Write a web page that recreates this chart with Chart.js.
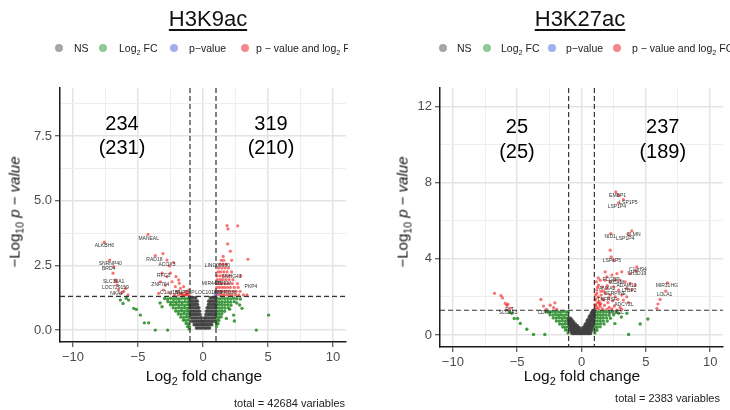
<!DOCTYPE html>
<html lang="en">
<head>
    <meta charset="UTF-8">
    <title>H3K9ac / H3K27ac volcano plots</title>
    <script src="https://cdn.jsdelivr.net/npm/chart.js"></script>
    <style>
        body {
            margin: 0;
            background: #fff;
            font-family: "Liberation Sans", Arial, sans-serif;
        }

        #wrap {
            position: relative;
            width: 730px;
            height: 410px;
            overflow: hidden;
        }

        canvas {
            position: absolute;
            top: 0;
        }

        .title {
            position: absolute;
            top: 7px;
            font-size: 22px;
            line-height: 24px;
            color: #111;
            text-decoration: underline;
            text-decoration-thickness: 2px;
            text-underline-offset: 3px;
            transform: translateX(-50%);
            white-space: nowrap;
        }

        .legend {
            position: absolute;
            top: 0;
            height: 60px;
            overflow: hidden;
            font-size: 10.5px;
            color: #222;
        }

        .dot {
            position: absolute;
            top: 44px;
            width: 8px;
            height: 8px;
            border-radius: 50%;
            margin-left: -4px;
        }

        .lt {
            position: absolute;
            top: 41px;
            line-height: 14px;
            white-space: nowrap;
        }

        .xt, .yt {
            position: absolute;
            white-space: nowrap;
            color: #111;
            transform: translate(-50%, -50%);
        }

        .xt { font-size: 15.5px; }
        .yt { font-size: 15px; transform: translate(-50%, -50%) rotate(-90deg); }

        .total {
            position: absolute;
            font-size: 11px;
            color: #222;
            white-space: nowrap;
            transform: translate(-100%, -50%);
        }

        sub { font-size: 70%; line-height: 0; }
    </style>
</head>

<body>
    <div id="wrap">
        <canvas id="leftChart" width="365" height="410" style="left:0"></canvas>
        <canvas id="rightChart" width="365" height="410" style="left:365px"></canvas>

        <div class="title" style="left:208px">H3K9ac</div>
        <div class="title" style="left:580px">H3K27ac</div>

        <!-- legends -->
        <div class="legend" style="left:0;width:348px">
            <span class="dot" style="left:59px;background:#a6a6a6"></span><span class="lt" style="left:74px">NS</span>
            <span class="dot" style="left:103px;background:#92c892"></span><span class="lt" style="left:119px">Log<sub>2</sub> FC</span>
            <span class="dot" style="left:174px;background:#9fb0ee"></span><span class="lt" style="left:189px">p&minus;value</span>
            <span class="dot" style="left:245px;background:#f28a8a"></span><span class="lt" style="left:256px">p &minus; value and log<sub>2</sub> FC</span>
        </div>
        <div class="legend" style="left:365px;width:365px">
            <span class="dot" style="left:78px;background:#a6a6a6"></span><span class="lt" style="left:92px">NS</span>
            <span class="dot" style="left:122px;background:#92c892"></span><span class="lt" style="left:136px">Log<sub>2</sub> FC</span>
            <span class="dot" style="left:187px;background:#9fb0ee"></span><span class="lt" style="left:201px">p&minus;value</span>
            <span class="dot" style="left:252px;background:#f28a8a"></span><span class="lt" style="left:267px">p &minus; value and log<sub>2</sub> FC</span>
        </div>

        <div class="yt" style="left:14px;top:212px">&minus;Log<sub>10</sub> <i>p</i> &minus; <i>value</i></div>
        <div class="yt" style="left:402px;top:212px">&minus;Log<sub>10</sub> <i>p</i> &minus; <i>value</i></div>
        <div class="xt" style="left:204px;top:376px">Log<sub>2</sub> fold change</div>
        <div class="xt" style="left:582px;top:376px">Log<sub>2</sub> fold change</div>
        <div class="total" style="left:345px;top:403px">total = 42684 variables</div>
        <div class="total" style="left:720px;top:398px">total = 2383 variables</div>
    </div>

    <script>
        // ---- data: [log2 fold change, -log10 p] ----
        const xMajor = [-10, -5, 0, 5, 10];
        const xMinor = [-7.5, -2.5, 2.5, 7.5];
        const yMajorL = [0, 2.5, 5, 7.5];
        const yMinorL = [1.25, 3.75, 6.25, 8.75];
        const yMajorR = [0, 4, 8, 12];
        const yMinorR = [2, 6, 10];
        const fcCut = 1;
        const pCut = 1.301;

        // H3K9ac
        const nsL = [
            [-0.98, 1.25], [-0.84, 1.25], [-0.7, 1.25], [-0.56, 1.25], [0.56, 1.25], [0.7, 1.25], [0.84, 1.25], [0.98, 1.25],
            [-0.98, 1.12], [-0.84, 1.12], [-0.7, 1.12], [-0.56, 1.12], [-0.44, 1.12], [0.44, 1.12], [0.56, 1.12], [0.7, 1.12], [0.84, 1.12], [0.98, 1.12],
            [-0.98, 0.99], [-0.84, 0.99], [-0.7, 0.99], [-0.56, 0.99], [-0.42, 0.99], [0.42, 0.99], [0.56, 0.99], [0.7, 0.99], [0.84, 0.99], [0.98, 0.99],
            [-0.98, 0.86], [-0.84, 0.86], [-0.7, 0.86], [-0.56, 0.86], [-0.42, 0.86], [-0.32, 0.86], [0.32, 0.86], [0.42, 0.86], [0.56, 0.86], [0.7, 0.86], [0.84, 0.86], [0.98, 0.86],
            [-0.96, 0.73], [-0.82, 0.73], [-0.68, 0.73], [-0.54, 0.73], [-0.4, 0.73], [-0.26, 0.73], [0.26, 0.73], [0.4, 0.73], [0.54, 0.73], [0.68, 0.73], [0.82, 0.73], [0.96, 0.73],
            [-0.94, 0.6], [-0.8, 0.6], [-0.66, 0.6], [-0.52, 0.6], [-0.38, 0.6], [-0.22, 0.6], [0.22, 0.6], [0.38, 0.6], [0.52, 0.6], [0.66, 0.6], [0.8, 0.6], [0.94, 0.6],
            [-0.9, 0.47], [-0.76, 0.47], [-0.62, 0.47], [-0.48, 0.47], [-0.34, 0.47], [-0.2, 0.47], [-0.12, 0.47], [0.12, 0.47], [0.2, 0.47], [0.34, 0.47], [0.48, 0.47], [0.62, 0.47], [0.76, 0.47], [0.9, 0.47],
            [-0.85, 0.34], [-0.7, 0.34], [-0.56, 0.34], [-0.42, 0.34], [-0.28, 0.34], [-0.14, 0.34], [-0.04, 0.34], [0.04, 0.34], [0.14, 0.34], [0.28, 0.34], [0.42, 0.34], [0.56, 0.34], [0.7, 0.34], [0.85, 0.34],
            [-0.68, 0.21], [-0.54, 0.21], [-0.4, 0.21], [-0.26, 0.21], [-0.12, 0.21], [0, 0.21], [0.12, 0.21], [0.26, 0.21], [0.4, 0.21], [0.54, 0.21], [0.68, 0.21],
            [-0.5, 0.08], [-0.36, 0.08], [-0.22, 0.08], [-0.08, 0.08], [0.08, 0.08], [0.22, 0.08], [0.36, 0.08], [0.5, 0.08]
        ];
        const fcL = [
            [-2.95, 1.22], [-2.72, 1.2], [-2.5, 1.23], [-2.28, 1.21], [-2.06, 1.22], [-1.84, 1.2], [-1.62, 1.23], [-1.4, 1.21], [-1.18, 1.22], [-1.04, 1.2],
            [-2.7, 1.1], [-2.48, 1.08], [-2.26, 1.1], [-2.04, 1.09], [-1.82, 1.1], [-1.6, 1.08], [-1.38, 1.1], [-1.16, 1.09], [-1.03, 1.1],
            [-2.5, 0.98], [-2.28, 0.97], [-2.06, 0.99], [-1.84, 0.97], [-1.62, 0.98], [-1.4, 0.96], [-1.18, 0.98], [-1.04, 0.97],
            [-2.3, 0.86], [-2.08, 0.85], [-1.86, 0.87], [-1.64, 0.85], [-1.42, 0.86], [-1.2, 0.84], [-1.05, 0.86],
            [-2.1, 0.74], [-1.88, 0.73], [-1.66, 0.75], [-1.44, 0.73], [-1.22, 0.74], [-1.04, 0.72],
            [-1.9, 0.62], [-1.68, 0.61], [-1.46, 0.63], [-1.24, 0.61], [-1.05, 0.62],
            [-1.7, 0.5], [-1.48, 0.49], [-1.26, 0.51], [-1.06, 0.5],
            [-1.5, 0.38], [-1.3, 0.37], [-1.1, 0.39], [-1.3, 0.26], [-1.12, 0.25], [-1.18, 0.14], [-1.04, 0.13], [-1.06, 0.04],
            [-6.36, 1.16], [-6.15, 1.03], [-5.9, 1.23], [-5.72, 1.16], [-5.33, 0.84], [-5.13, 0.8], [-4.82, 0.58],
            [-4.51, 0.28], [-4.18, 0.28], [-3.67, 0.0], [-2.72, 0.0], [-3.3, 1.05], [-3.15, 0.9],
            [1.04, 1.22], [1.26, 1.2], [1.48, 1.23], [1.7, 1.21], [1.92, 1.22], [2.14, 1.2], [2.36, 1.23], [2.6, 1.21],
            [1.03, 1.1], [1.24, 1.08], [1.46, 1.1], [1.68, 1.09], [1.9, 1.1], [2.12, 1.08], [2.4, 1.1],
            [1.04, 0.98], [1.25, 0.97], [1.46, 0.99], [1.68, 0.97], [1.9, 0.98], [2.15, 0.96],
            [1.05, 0.86], [1.26, 0.85], [1.48, 0.87], [1.7, 0.85], [1.95, 0.86],
            [1.04, 0.74], [1.24, 0.73], [1.44, 0.75], [1.66, 0.73],
            [1.05, 0.62], [1.25, 0.61], [1.45, 0.63], [1.04, 0.5], [1.22, 0.49], [1.4, 0.51],
            [1.05, 0.38], [1.22, 0.37], [1.04, 0.26], [1.15, 0.25], [1.03, 0.14],
            [2.05, 0.81], [2.36, 0.58], [2.82, 0.97], [2.41, 0.35], [5.05, 0.58], [4.1, 0.0], [3.0, 0.84], [2.6, 1.05], [1.8, 0.45], [2.87, 1.2]
        ];
        const pL = [[0.97, 1.36]];
        const bothL = [
            [-7.59, 3.4], [-7.18, 2.71], [-6.87, 2.45], [-6.92, 2.2], [-6.74, 1.94], [-6.7, 1.87], [-6.6, 1.74], [-6.5, 1.55],
            [-6.3, 1.42], [-5.97, 1.61], [-5.77, 1.36], [-6.1, 1.5],
            [-4.23, 3.7], [-3.67, 2.88], [-3.08, 2.96], [-2.77, 2.71], [-2.59, 2.48], [-2.26, 2.61], [-3.15, 2.2], [-2.77, 2.07],
            [-2.51, 2.2], [-3.28, 1.87], [-2.9, 1.74], [-2.38, 1.87], [-2.13, 1.68], [-1.87, 1.94], [-1.74, 1.61], [-1.49, 1.68],
            [-2.0, 1.49], [-1.62, 1.42], [-1.36, 1.49], [-1.23, 1.36], [-1.1, 1.55], [-2.51, 1.42], [-3.03, 1.55], [-3.41, 1.42],
            [-2.2, 1.36], [-1.54, 1.34], [-1.82, 1.81], [-2.08, 2.07], [-1.3, 1.4], [-1.15, 1.45], [-1.05, 1.35], [-1.4, 1.35],
            [-1.7, 1.4], [-1.9, 1.35],
            [1.05, 1.36], [1.25, 1.36], [1.45, 1.36], [1.65, 1.36], [1.85, 1.36], [2.05, 1.36], [2.25, 1.36], [2.5, 1.36], [2.75, 1.36], [3.1, 1.36], [3.38, 1.36],
            [1.05, 1.5], [1.25, 1.5], [1.45, 1.5], [1.65, 1.5], [1.85, 1.5], [2.05, 1.5], [2.3, 1.5], [2.55, 1.5], [2.85, 1.5],
            [1.06, 1.65], [1.26, 1.65], [1.46, 1.65], [1.66, 1.65], [1.88, 1.65], [2.1, 1.65], [2.4, 1.65], [2.7, 1.65],
            [1.05, 1.8], [1.25, 1.8], [1.45, 1.8], [1.7, 1.8], [1.95, 1.8], [2.25, 1.8], [2.65, 1.8],
            [1.08, 1.95], [1.3, 1.95], [1.5, 1.95], [1.75, 1.95], [2.0, 1.95], [2.3, 1.95],
            [1.1, 2.1], [1.32, 2.1], [1.55, 2.1], [1.8, 2.1], [2.05, 2.1], [2.9, 2.1],
            [1.15, 2.25], [1.35, 2.25], [1.6, 2.25], [1.85, 2.25], [2.2, 2.25],
            [1.2, 2.4], [1.45, 2.4], [1.7, 2.4], [1.95, 2.4], [1.3, 2.55], [1.55, 2.55], [1.8, 2.55],
            [1.4, 2.7], [1.6, 2.7], [2.2, 2.7], [1.55, 2.85],
            [1.85, 4.04], [1.92, 3.91], [2.67, 4.03], [1.9, 3.33], [3.46, 2.74], [2.1, 3.05]
        ];
        const labelsL = [
            [-7.59, 3.27, 'ALKBH6'], [-4.18, 3.53, 'MANEAL'], [-7.13, 2.58, 'SNRNP40'], [-7.26, 2.39, 'BRD4'],
            [-3.74, 2.71, 'RAD18'], [-2.77, 2.55, 'ACOX3'], [-3.03, 2.11, 'RFC3'], [-3.28, 1.74, 'ZNF704'],
            [-6.87, 1.87, 'SLC39A1'], [-6.74, 1.65, 'LOC729159'], [-6.62, 1.42, 'NKAP'], [-2.51, 1.45, 'C1orf159'],
            [-1.4, 1.45, 'NUP50P'], [1.1, 2.48, 'LINC00680'], [2.2, 2.08, 'SNHG43'], [0.69, 1.78, 'MIR4435'],
            [3.69, 1.68, 'PKP4'], [0.44, 1.46, 'LOC101929'], [1.7, 1.46, 'ANKRD36'], [1.6, 1.8, 'TMEM']
        ];
        const countsL = ['234', '(231)', '319', '(210)'];

        // H3K27ac
        const nsR = [
            [-0.98, 0.88], [-0.86, 0.88],
            [-0.98, 0.78], [-0.86, 0.78], [-0.74, 0.78],
            [-0.98, 0.68], [-0.86, 0.68], [-0.74, 0.68], [-0.62, 0.68],
            [-0.96, 0.58], [-0.84, 0.58], [-0.72, 0.58], [-0.6, 0.58], [-0.48, 0.58],
            [-0.92, 0.48], [-0.8, 0.48], [-0.68, 0.48], [-0.56, 0.48], [-0.44, 0.48], [-0.32, 0.48],
            [-0.88, 0.38], [-0.76, 0.38], [-0.64, 0.38], [-0.52, 0.38], [-0.4, 0.38], [-0.28, 0.38], [-0.16, 0.38],
            [-0.84, 0.28], [-0.72, 0.28], [-0.6, 0.28], [-0.48, 0.28], [-0.36, 0.28], [-0.24, 0.28], [-0.12, 0.28],
            [-0.8, 0.18], [-0.68, 0.18], [-0.56, 0.18], [-0.44, 0.18], [-0.32, 0.18], [-0.2, 0.18], [-0.08, 0.18],
            [-0.74, 0.08], [-0.62, 0.08], [-0.5, 0.08], [-0.38, 0.08], [-0.26, 0.08], [-0.14, 0.08], [-0.02, 0.08],
            [0.98, 1.28], [0.88, 1.28],
            [0.98, 1.18], [0.88, 1.18], [0.78, 1.18],
            [0.98, 1.08], [0.86, 1.08], [0.74, 1.08],
            [0.98, 0.98], [0.86, 0.98], [0.74, 0.98], [0.62, 0.98],
            [0.96, 0.88], [0.84, 0.88], [0.72, 0.88], [0.6, 0.88],
            [0.94, 0.78], [0.82, 0.78], [0.7, 0.78], [0.58, 0.78], [0.46, 0.78],
            [0.92, 0.68], [0.8, 0.68], [0.68, 0.68], [0.56, 0.68], [0.44, 0.68],
            [0.9, 0.58], [0.78, 0.58], [0.66, 0.58], [0.54, 0.58], [0.42, 0.58], [0.3, 0.58],
            [0.86, 0.48], [0.74, 0.48], [0.62, 0.48], [0.5, 0.48], [0.38, 0.48], [0.26, 0.48],
            [0.82, 0.38], [0.7, 0.38], [0.58, 0.38], [0.46, 0.38], [0.34, 0.38], [0.22, 0.38], [0.1, 0.38],
            [0.78, 0.28], [0.66, 0.28], [0.54, 0.28], [0.42, 0.28], [0.3, 0.28], [0.18, 0.28], [0.06, 0.28],
            [0.74, 0.18], [0.62, 0.18], [0.5, 0.18], [0.38, 0.18], [0.26, 0.18], [0.14, 0.18], [0.02, 0.18],
            [0.7, 0.08], [0.58, 0.08], [0.46, 0.08], [0.34, 0.08], [0.22, 0.08], [0.1, 0.08]
        ];
        const fcR = [
            [-2.75, 1.22], [-2.5, 1.2], [-2.28, 1.23], [-2.06, 1.21], [-1.84, 1.22], [-1.62, 1.2], [-1.4, 1.23], [-1.18, 1.21], [-1.03, 1.22],
            [-2.45, 1.06], [-2.22, 1.05], [-2.0, 1.07], [-1.78, 1.05], [-1.56, 1.06], [-1.34, 1.04], [-1.12, 1.06],
            [-2.2, 0.9], [-1.98, 0.89], [-1.76, 0.91], [-1.54, 0.89], [-1.32, 0.9], [-1.1, 0.88],
            [-1.95, 0.74], [-1.72, 0.73], [-1.5, 0.75], [-1.28, 0.73], [-1.06, 0.74],
            [-1.7, 0.58], [-1.48, 0.57], [-1.26, 0.59], [-1.05, 0.58],
            [-1.45, 0.42], [-1.24, 0.41], [-1.04, 0.43], [-1.25, 0.26], [-1.06, 0.25], [-1.05, 0.1],
            [-5.6, 1.2], [-5.41, 1.14], [-5.23, 0.87], [-4.97, 0.87], [-4.76, 0.61], [-4.25, 0.3], [-3.73, 0.03], [-2.85, 0.03],
            [1.04, 1.22], [1.26, 1.2], [1.48, 1.23], [1.7, 1.21], [1.92, 1.22], [2.14, 1.2], [2.4, 1.23], [2.7, 1.21],
            [1.03, 1.06], [1.24, 1.05], [1.46, 1.07], [1.68, 1.05], [1.9, 1.06], [2.15, 1.04], [2.5, 1.06],
            [1.04, 0.9], [1.26, 0.89], [1.48, 0.91], [1.7, 0.89], [1.95, 0.9], [2.25, 0.88],
            [1.03, 0.74], [1.24, 0.73], [1.46, 0.75], [1.7, 0.73], [2.0, 0.74],
            [1.04, 0.58], [1.25, 0.57], [1.48, 0.59], [1.75, 0.58],
            [1.03, 0.42], [1.22, 0.41], [1.45, 0.43], [1.03, 0.26], [1.2, 0.25], [1.04, 0.1],
            [3.53, 1.14], [4.56, 0.58], [5.16, 0.84], [3.66, 0.03], [2.88, 1.14], [2.6, 0.6], [3.1, 0.95]
        ];
        const pR = [];
        const bothR = [
            [2.67, 7.52], [2.88, 7.34], [3.26, 7.12], [2.88, 6.94], [2.28, 5.33], [3.91, 5.47], [3.65, 5.3],
            [2.23, 4.46], [2.31, 4.11], [2.49, 3.93], [4.3, 3.58], [4.22, 3.37], [3.78, 3.23],
            [6.68, 2.74], [6.55, 2.31], [6.11, 1.87], [5.94, 1.63], [5.86, 1.4],
            [1.97, 3.06], [2.36, 3.15], [2.75, 3.23], [3.13, 3.32], [1.84, 2.88], [2.23, 2.8], [2.62, 2.88], [3.0, 2.88],
            [3.39, 2.8], [3.78, 2.71], [4.17, 2.62], [1.32, 2.62], [1.63, 2.53], [1.97, 2.45], [2.49, 2.53], [2.88, 2.36],
            [3.52, 2.45], [3.91, 2.36], [1.19, 2.19], [1.53, 2.1], [1.84, 2.19], [2.23, 2.1], [2.62, 2.01], [3.13, 2.1],
            [3.52, 2.01], [1.06, 1.84], [1.37, 1.75], [1.71, 1.84], [2.05, 1.7], [2.41, 1.8], [2.82, 1.87], [3.26, 1.84],
            [3.65, 1.7], [1.11, 1.57], [1.45, 1.49], [1.79, 1.56], [2.15, 1.45], [2.56, 1.52], [3.0, 1.45], [1.06, 1.4],
            [1.32, 1.35], [1.63, 1.38], [1.97, 1.35], [2.36, 1.38], [2.75, 1.31], [3.13, 1.35], [1.19, 2.36], [1.45, 2.88],
            [1.84, 3.32], [1.1, 1.9], [1.2, 1.45], [1.3, 2.0], [1.4, 1.6], [1.25, 2.5], [1.5, 2.3], [1.6, 1.9], [1.05, 1.6],
            [1.15, 2.8], [1.3, 3.0], [1.08, 2.1], [1.25, 1.7], [1.5, 1.65], [1.7, 2.3], [2.0, 2.6], [2.1, 1.95],
            [-6.76, 2.19], [-6.26, 2.07], [-6.14, 1.95], [-5.93, 1.66], [-5.8, 1.55], [-5.73, 1.62], [-5.54, 1.4], [-5.8, 1.31],
            [-3.16, 1.87], [-2.95, 1.52], [-2.43, 1.57], [-2.07, 1.69], [-2.17, 1.44], [-2.74, 1.35], [-1.92, 1.35]
        ];
        const labelsR = [
            [2.8, 7.34, 'EMBP1'], [3.65, 6.94, 'LSP1P5'], [2.75, 6.77, 'LSP1P4'], [2.23, 5.16, 'NID1'], [4.04, 5.3, 'CLMN'],
            [3.39, 5.07, 'LSP1P4'], [2.36, 3.93, 'LSP1P5'], [4.38, 3.41, 'C1orf94'], [4.3, 3.23, 'SH3D19'],
            [6.63, 2.57, 'MIR31HG'], [6.45, 2.13, 'LOLA1'], [2.3, 2.9, 'FCGBP'], [2.7, 2.75, 'MCAM'], [3.5, 2.6, 'ADAM12'],
            [3.7, 2.35, 'LTBP2'], [2.0, 2.45, 'ANXA2'], [2.6, 2.2, 'SERPINE'], [2.0, 1.85, 'TNFRSF'], [3.3, 1.6, 'ADCY2L'],
            [2.7, 1.2, 'LOX2L'], [-5.6, 1.35, 'FLT'], [-5.7, 1.2, 'SLC2A3'], [-2.9, 1.2, 'CDH4']
        ];
        const countsR = ['25', '(25)', '237', '(189)'];

        Chart.defaults.font.family = '"Liberation Sans", Arial, sans-serif';

        const toPts = arr => arr.map(([x, y]) => ({ x, y }));
        const minus = v => (v < 0 ? '\u2212' + Math.abs(v) : String(v));

        // cut-off lines, the counts and the little gene labels
        const overlay = {
            id: 'overlay',
            afterDatasetsDraw(chart, args, o) {
                const { ctx, chartArea: a, scales: { x, y } } = chart;
                ctx.save();
                ctx.strokeStyle = '#333';
                ctx.lineWidth = 1.2;
                ctx.setLineDash([5, 3]);
                [-fcCut, fcCut].forEach(v => {
                    const px = x.getPixelForValue(v);
                    ctx.beginPath(); ctx.moveTo(px, a.top); ctx.lineTo(px, a.bottom); ctx.stroke();
                });
                const py = y.getPixelForValue(pCut);
                ctx.beginPath(); ctx.moveTo(a.left, py); ctx.lineTo(a.right, py); ctx.stroke();
                ctx.setLineDash([]);

                ctx.textAlign = 'center';
                ctx.textBaseline = 'middle';
                ctx.font = '5px "Liberation Sans"';
                ctx.fillStyle = '#333';
                o.labels.forEach(([gx, gy, t]) => ctx.fillText(t, x.getPixelForValue(gx), y.getPixelForValue(gy)));

                ctx.font = '20px "Liberation Sans"';
                ctx.fillStyle = '#000';
                o.counts.forEach((t, i) => {
                    const [cx, cy] = o.countAt[i];
                    ctx.fillText(t, x.getPixelForValue(cx), y.getPixelForValue(cy));
                });
                ctx.restore();
            }
        };

        function axis(major, minor, min, max, fmt, fit) {
            const all = major.concat(minor).sort((a, b) => a - b);
            const isMajor = c => c.tick && major.includes(c.tick.value);
            return {
                type: 'linear', min, max,
                afterBuildTicks: s => { s.ticks = all.map(v => ({ value: v })); },
                afterFit: fit,
                ticks: {
                    autoSkip: false, maxRotation: 0, color: '#4d4d4d', font: { size: 13 }, padding: 3,
                    callback: v => (major.includes(v) ? fmt(v) : '')
                },
                grid: {
                    color: c => (isMajor(c) ? '#e4e4e4' : '#eeeeee'),
                    lineWidth: c => (isMajor(c) ? 1.5 : 1),
                    tickLength: 5,
                    tickWidth: 1,
                    tickColor: c => (isMajor(c) ? '#333' : 'rgba(0,0,0,0)')
                },
                border: { color: '#1a1a1a', width: 1.5 }
            };
        }

        function volcano(id, d) {
            return new Chart(document.getElementById(id), {
                type: 'scatter',
                data: {
                    datasets: [
                        { label: 'NS', data: toPts(d.ns), backgroundColor: 'rgba(64,64,64,0.9)', pointRadius: 1.8 },
                        { label: 'Log2 FC', data: toPts(d.fc), backgroundColor: 'rgba(34,139,34,0.85)', pointRadius: 1.7 },
                        { label: 'p-value', data: toPts(d.p), backgroundColor: 'rgba(65,105,225,0.8)', pointRadius: 1.6 },
                        { label: 'p - value and log2 FC', data: toPts(d.both), backgroundColor: 'rgba(238,0,0,0.55)', pointRadius: 1.6 }
                    ]
                },
                options: {
                    responsive: false,
                    animation: false,
                    events: [],
                    elements: { point: { borderWidth: 0 } },
                    layout: { padding: d.pad },
                    plugins: {
                        legend: { display: false },
                        tooltip: { enabled: false },
                        overlay: { labels: d.labels, counts: d.counts, countAt: d.countAt }
                    },
                    scales: {
                        x: axis(xMajor, xMinor, -11, 11, minus, s => { s.height = 22; }),
                        y: axis(d.yMajor, d.yMinor, d.yMin, d.yMax, d.yFmt, s => { s.width = 45; })
                    }
                },
                plugins: [overlay]
            });
        }

        volcano('leftChart', {
            ns: nsL, fc: fcL, p: pL, both: bothL, labels: labelsL, counts: countsL,
            countAt: [[-6.23, 7.95], [-6.23, 7.04], [5.23, 7.95], [5.23, 7.04]],
            yMajor: yMajorL, yMinor: yMinorL, yMin: -0.46, yMax: 9.36, yFmt: v => v.toFixed(1),
            pad: { left: 15, right: 19, top: 88, bottom: 46 }
        });

        volcano('rightChart', {
            ns: nsR, fc: fcR, p: pR, both: bothR, labels: labelsR, counts: countsR,
            countAt: [[-5.02, 10.92], [-5.02, 9.61], [6.32, 10.92], [6.32, 9.61]],
            yMajor: yMajorR, yMinor: yMinorR, yMin: -0.63, yMax: 12.98, yFmt: v => String(v),
            pad: { left: 30, right: 7, top: 88, bottom: 41 }
        });
    </script>
</body>

</html>
